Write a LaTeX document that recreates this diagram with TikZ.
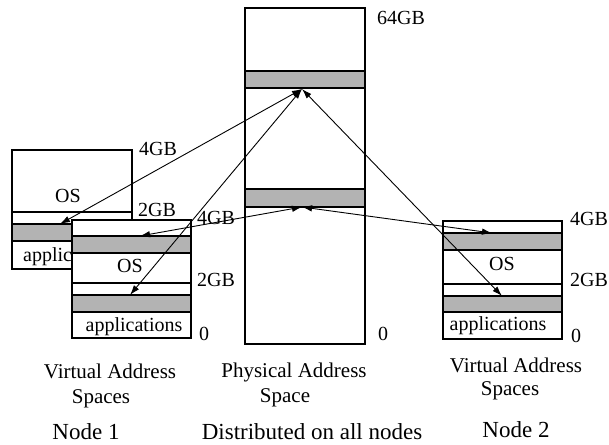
\documentclass[tikz,border=0pt]{standalone}
\usepackage{fontspec}
\setmainfont{Liberation Serif}
\usetikzlibrary{arrows.meta}
\definecolor{bandgray}{RGB}{179,179,179}
\begin{document}
\begin{tikzpicture}[x=1pt,y=-1pt,
  frame/.style={draw,line width=1.6pt},
  band/.style={draw,line width=1.6pt,fill=bandgray},
  lbl/.style={font=\fontsize{20}{20}\selectfont,inner sep=0pt,anchor=base},
  lblw/.style={lbl,anchor=base west},
  captext/.style={font=\fontsize{21}{21}\selectfont,inner sep=0pt,anchor=base},
  nodecap/.style={font=\fontsize{23}{23}\selectfont,inner sep=0pt,anchor=base},
  link/.style={line width=0.9pt,{Latex[length=10pt,width=6.5pt]}-{Latex[length=10pt,width=6.5pt]}}]
\useasboundingbox (0,0) rectangle (609,444);

% ---- Node 1: rear virtual address space
\draw[frame,fill=white] (12,150) rectangle (132,269);
\draw[frame] (12,212) -- (132,212);
\draw[band] (12,224) rectangle (132,241);
\node[lbl] (osA) at (68,202) {OS};
\node[lblw] (appA) at (23,261) {applications};
\node[lblw] (gbA4) at (139,155) {4GB};
\node[lblw] (gbA2) at (138,216) {2GB};

% ---- Node 1: front virtual address space
\draw[frame,fill=white] (72,220) rectangle (191,338);
\draw[band] (72,236) rectangle (191,253);
\draw[frame] (72,283) -- (191,283);
\draw[band] (72,295) rectangle (191,312);
\node[lbl] (osB) at (130,272) {OS};
\node[lbl] (appB) at (134,331) {applications};
\node[lblw] (gbB4) at (197,224) {4GB};
\node[lblw] (gbB2) at (197,286) {2GB};
\node[lblw] (gbB0) at (199,340) {0};

% ---- Physical address space
\draw[frame,fill=white] (245,8) rectangle (365,344);
\draw[band] (245,71) rectangle (365,88);
\draw[band] (245,189) rectangle (365,207);
\node[lblw] (gbP64) at (377,25) {64GB};
\node[lblw] (gbP0) at (378,340) {0};

% ---- Node 2: virtual address space
\draw[frame,fill=white] (443,221) rectangle (562,339);
\draw[band] (443,233) rectangle (562,250);
\draw[frame] (443,284) -- (562,284);
\draw[band] (443,296) rectangle (562,312);
\node[lbl] (osC) at (502,270) {OS};
\node[lbl] (appC) at (498,330) {applications};
\node[lblw] (gbC4) at (570,225) {4GB};
\node[lblw] (gbC2) at (570,286) {2GB};
\node[lblw] (gbC0) at (571,342) {0};

% ---- captions
\node[captext] (vasA1) at (110,378) {Virtual Address};
\node[captext] (vasA2) at (101,403) {Spaces};
\node[captext] (pas1) at (294,377) {Physical Address};
\node[captext] (pas2) at (285,402) {Space};
\node[captext] (vasC1) at (516,372) {Virtual Address};
\node[captext] (vasC2) at (510,395) {Spaces};
\node[nodecap] (nd1) at (86,439) {Node 1};
\node[nodecap] (ndall) at (312,439) {Distributed on all nodes};
\node[nodecap] (nd2) at (516,437) {Node 2};

% ---- mapping endpoints
\coordinate (physHi) at (302,89);
\coordinate (physLo) at (302,207);
\coordinate (rearA) at (60,224);
\coordinate (frontHi) at (140,236);
\coordinate (frontLo) at (130,295);
\coordinate (twoHi) at (492,233);
\coordinate (twoLo) at (502,296);

\draw[link] (physHi) -- (rearA);
\draw[link] (physHi) -- (frontLo);
\draw[link] (physLo) -- (frontHi);
\draw[link] (physLo) -- (twoHi);
\draw[link] (physHi) -- (twoLo);
\end{tikzpicture}
\end{document}
